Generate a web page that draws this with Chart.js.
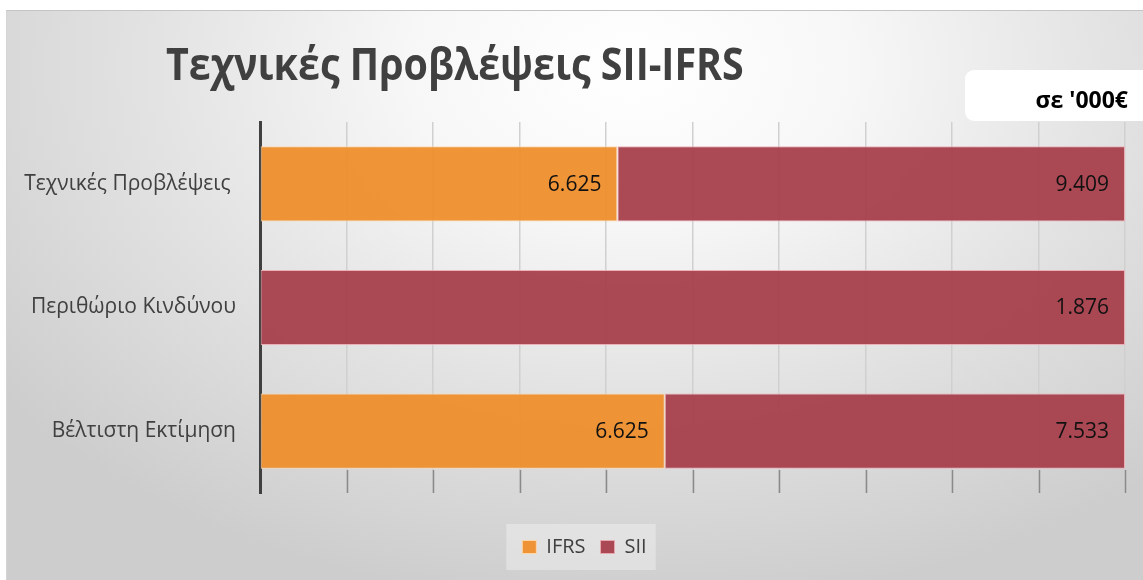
<!DOCTYPE html>
<html><head><meta charset="utf-8">
<script src="https://cdn.jsdelivr.net/npm/chart.js@4.4.0/dist/chart.umd.min.js"></script>
<style>
html,body{margin:0;padding:0;background:#fff;width:1143px;height:580px;overflow:hidden}
#panel{position:absolute;left:6px;top:10px;width:1137px;height:570px;border-top:1px solid #c4c4c4;border-left:1px solid #d4d4d4;box-sizing:border-box;
background:radial-gradient(ellipse 70% 95% at 55% 10%, #ffffff 0%, #f7f7f7 28%, #e3e3e3 60%, #cdcdcd 100%);}
#wrap{position:absolute;left:0;top:0;width:1143px;height:580px}
</style></head><body>
<div id="panel"></div>
<div id="wrap"><canvas id="c" width="1143" height="580"></canvas></div>
<script>
// ---- data ----
const categories = ["Τεχνικές Προβλέψεις ", "Περιθώριο Κινδύνου", "Βέλτιστη Εκτίμηση"];
const ifrsValues = [6625, null, 6625];
const siiValues = [9409, 1876, 7533];
const seriesNames = ["IFRS", "SII"];
const chartTitle = "Τεχνικές Προβλέψεις SII-IFRS";
const unitLabel = "σε '000€";

// 100% stacked shares built from the values
const totals = categories.map((_, i) => (ifrsValues[i] || 0) + (siiValues[i] || 0));
const share = arr => arr.map((v, i) => v == null ? null : v / totals[i] * 100);
const fmt = v => String(v).replace(/\B(?=(\d{3})+(?!\d))/g, '.');

const FONT = "'Open Sans', 'Noto Sans', sans-serif";
const TICK_DROP = 23;

const decor = {
  id: 'decor',
  afterLayout(chart) {
    const lg = chart.legend;
    if (lg) { lg.left += 22; lg.right += 22; }
  },
  beforeDraw(chart) {
    const ctx = chart.ctx;
    ctx.save();
    // title (slightly condensed, like the original face)
    ctx.fillStyle = '#404040';
    ctx.font = "bold 45px " + FONT;
    ctx.textAlign = 'left';
    ctx.textBaseline = 'alphabetic';
    ctx.save();
    ctx.translate(166, 80);
    ctx.scale(0.876, 1);
    ctx.fillText(chartTitle, 0, 0);
    ctx.restore();
    // unit box
    ctx.fillStyle = '#ffffff';
    ctx.beginPath();
    ctx.roundRect(965, 70, 200, 51, 9);
    ctx.fill();
    ctx.fillStyle = '#000000';
    ctx.font = "bold 23px " + FONT;
    ctx.textAlign = 'right';
    ctx.fillText(unitLabel, 1128, 108);
    // legend backdrop
    const hb = chart.legend && chart.legend.legendHitBoxes;
    if (hb && hb.length) {
      const l = hb[0].left - 16, r = hb[hb.length - 1].left + hb[hb.length - 1].width + 9;
      const cy = hb[0].top + hb[0].height / 2;
      ctx.fillStyle = 'rgba(255,255,255,0.32)';
      ctx.fillRect(l, cy - 23, r - l, 46);
    }
    ctx.restore();
  },
  afterDatasetsDraw(chart) {
    const ctx = chart.ctx;
    const area = chart.chartArea;
    const xs = chart.scales.x;
    ctx.save();
    // tick marks at the bottom of the plot
    ctx.strokeStyle = '#8a8a8a';
    ctx.lineWidth = 1.5;
    xs.ticks.forEach((t, i) => {
      if (i === 0) return;
      const x = Math.round(xs.getPixelForTick(i)) + 0.5;
      ctx.beginPath();
      ctx.moveTo(x, area.bottom - TICK_DROP);
      ctx.lineTo(x, area.bottom);
      ctx.stroke();
    });
    // value labels
    ctx.fillStyle = '#111111';
    ctx.font = "21px " + FONT;
    ctx.textAlign = 'right';
    ctx.textBaseline = 'middle';
    const raws = [ifrsValues, siiValues];
    chart.data.datasets.forEach((ds, di) => {
      const meta = chart.getDatasetMeta(di);
      meta.data.forEach((el, i) => {
        const v = raws[di][i];
        if (v == null) return;
        ctx.fillText(fmt(v), el.x - 16, el.y + 1);
      });
    });
    ctx.restore();
  }
};

new Chart(document.getElementById('c'), {
  type: 'bar',
  data: {
    labels: categories,
    datasets: [
      { label: seriesNames[0], data: share(ifrsValues), backgroundColor: 'rgba(238,141,43,0.94)', borderColor: 'rgba(255,215,170,0.9)', borderWidth: 1, borderSkipped: false },
      { label: seriesNames[1], data: share(siiValues), backgroundColor: 'rgba(166,62,74,0.94)', borderColor: 'rgba(235,170,178,0.9)', borderWidth: 1, borderSkipped: false }
    ]
  },
  options: {
    indexAxis: 'y',
    responsive: false,
    animation: false,
    devicePixelRatio: 1,
    categoryPercentage: 0.8,
    barPercentage: 0.76,
    layout: { padding: { top: 122, right: 18, left: 0, bottom: 13 } },
    scales: {
      x: {
        stacked: true, min: 0, max: 100,
        ticks: { display: false, stepSize: 10 },
        grid: { color: '#d0d0d0', lineWidth: 1.5, drawTicks: false },
        border: { display: false },
        afterFit(s) { s.height = 29; }
      },
      y: {
        stacked: true,
        grid: { display: false, drawTicks: false },
        border: { display: true, color: '#404040', width: 3 },
        ticks: { padding: 24, color: '#404040', font: { family: FONT, size: 21 } },
        afterFit(s) { s.width = 260; }
      }
    },
    plugins: {
      title: { display: false },
      tooltip: { enabled: false },
      legend: {
        position: 'bottom',
        labels: { boxWidth: 14, boxHeight: 13, padding: 15, color: '#404040', font: { family: FONT, size: 20 } }
      }
    }
  },
  plugins: [decor]
});
</script>
</body></html>
